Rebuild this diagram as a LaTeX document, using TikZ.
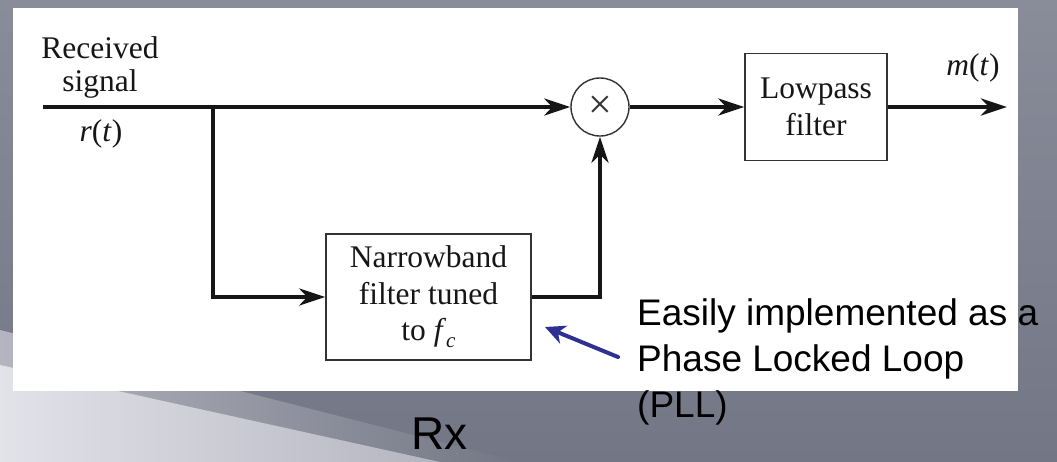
\documentclass[tikz,border=0pt]{standalone}
\usepackage{fontspec}
\setmainfont{Liberation Serif}
\newfontfamily\slidefont{Liberation Sans}
\usetikzlibrary{arrows.meta}
\definecolor{bgtop}{HTML}{898C99}
\definecolor{bgbot}{HTML}{737684}
\definecolor{swooshlight}{HTML}{E2E3E9}
\definecolor{swooshmid}{HTML}{B4B5C0}
\definecolor{inkcol}{HTML}{161616}
\definecolor{boxcol}{HTML}{333333}
\definecolor{pllblue}{HTML}{2E3192}
\tikzset{
  sig/.style={line width=4.4pt, draw=inkcol, -{Stealth[length=26pt,width=17pt,inset=8pt]}},
  blockbox/.style={draw=boxcol, line width=1.4pt, fill=white, align=center, inner sep=0pt,
    text=inkcol, font=\fontsize{31.5}{36.5}\selectfont},
  mixer/.style={circle, draw=boxcol, line width=1.4pt, fill=white, minimum size=58pt, inner sep=0pt,
    text=boxcol, font=\fontsize{42}{42}\selectfont},
  lbl/.style={text=inkcol, inner sep=0pt, font=\fontsize{31.5}{33}\selectfont},
  slidetext/.style={text=black, inner sep=0pt, anchor=base west, font=\slidefont\fontsize{37}{46}\selectfont},
  pointer/.style={line width=4pt, draw=pllblue, line cap=round, -{Stealth[length=20pt,width=19pt,inset=6pt]}}
}
\begin{document}
\begin{tikzpicture}[x=1pt,y=-1pt]
% slide background
\useasboundingbox (0,0) rectangle (1057,461);
\shade[top color=bgtop, bottom color=bgbot] (-1,-1) rectangle (1058,462);
\shade[left color=swooshmid, right color=bgbot] (0,330) -- (520,462) -- (0,462) -- cycle;
\shade[left color=swooshlight, right color=swooshmid] (0,365) -- (440,462) -- (0,462) -- cycle;
% white figure panel
\fill[white] (13,8) rectangle (1018,391);

% blocks
\node[mixer] (mult) at (600,107) {×};
\node[blockbox, minimum width=142pt, minimum height=107pt] (lp) at (816,107) {Lowpass\\filter};
\node[blockbox, minimum width=205pt, minimum height=126pt] (nb) at (428.5,297)
  {Narrowband\\filter tuned\\to \textit{f}\raisebox{-0.22em}{\fontsize{21}{21}\selectfont\textit{c}}};

% labels
\node[lbl, align=center] (recv) at (100,67) {Received\\signal};
\node[lbl, anchor=base] (rt) at (101,141) {\textit{r}(\textit{t})};
\node[lbl, anchor=base] (mt) at (973,75) {\textit{m}(\textit{t})};

% signal path
\coordinate (in) at (43,107);
\coordinate (br) at (213,107);
\coordinate (out) at (1007,107);
\draw[sig] (in) -- (mult);
\draw[sig] (br) |- (nb.west);
\draw[sig] (nb.east) -| (mult.south);
\draw[sig] (mult) -- (lp);
\draw[sig] (lp) -- (out);

% slide annotation
\node[slidetext] (pll1) at (637,325) {Easily implemented as a};
\node[slidetext] (pll2) at (637,371) {Phase Locked Loop};
\node[slidetext] (pll3) at (637,417) {(PLL)};
\coordinate (ptail) at (618,357);
\coordinate (ptip) at (545,327);
\draw[pointer] (ptail) -- (ptip);

\node[text=black, inner sep=0pt, anchor=base west, font=\slidefont\fontsize{46}{46}\selectfont] (rx) at (411,449) {Rx};
\end{tikzpicture}
\end{document}
